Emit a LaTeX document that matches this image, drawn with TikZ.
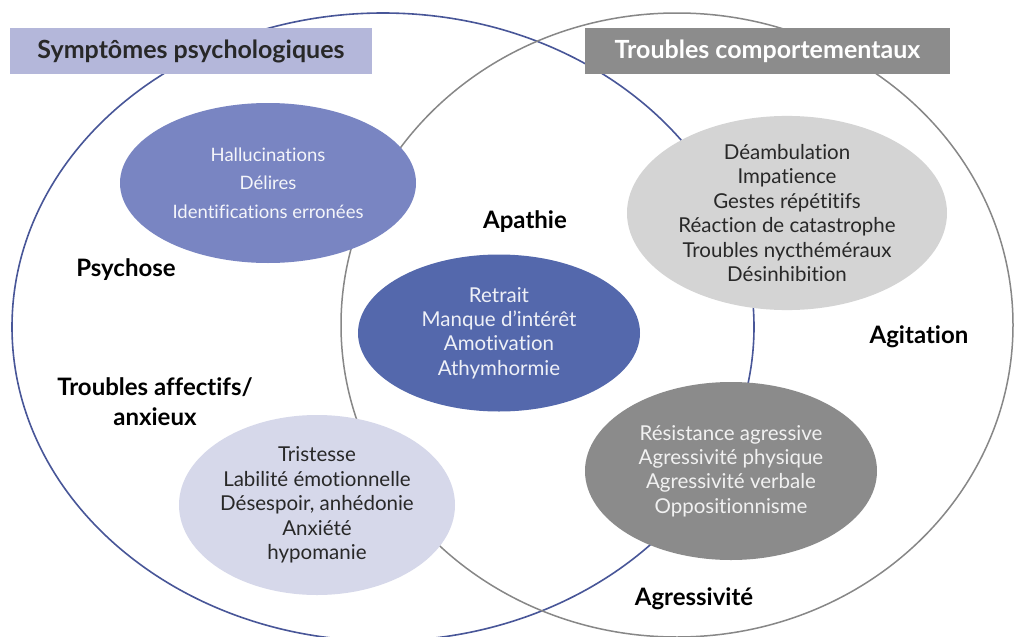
\documentclass[tikz,border=0pt]{standalone}
\usepackage{fontspec}
\setmainfont{Lato}[Ligatures=NoCommon]
\usetikzlibrary{shapes.geometric}

\definecolor{psyline}{RGB}{72,86,152}
\definecolor{compline}{RGB}{135,135,135}
\definecolor{psyhead}{RGB}{180,183,218}
\definecolor{comphead}{RGB}{140,140,140}
\definecolor{psychose}{RGB}{121,133,194}
\definecolor{apathie}{RGB}{84,104,172}
\definecolor{agitation}{RGB}{212,212,212}
\definecolor{affect}{RGB}{214,216,234}
\definecolor{agress}{RGB}{139,139,139}
\definecolor{texte}{RGB}{40,40,40}

\begin{document}
\begin{tikzpicture}[x=1pt,y=-1pt,
	bulle/.style={ellipse, inner sep=0pt, align=center, font=\fontsize{20.5}{24.4}\selectfont},
	titre/.style={align=center, text=black, font=\bfseries\fontsize{24}{30}\selectfont},
	entete/.style={inner sep=0pt, minimum height=46pt, font=\bfseries\fontsize{25}{28}\selectfont}]
		\useasboundingbox (0,0) rectangle (1015,637);
		\clip (0,0) rectangle (1015,637);
		\fill[white] (0,0) rectangle (1015,637);
		
		% les deux grands cercles
		\draw[psyline, line width=1.6pt] (383,327) ellipse [x radius=371, y radius=314];
		\draw[compline, line width=1.5pt] (677,325) ellipse [x radius=336, y radius=312];
		
		\node(psy) at (191,51) [entete, fill=psyhead, text=texte, minimum width=362pt] {Symptômes psychologiques};
		\node(comp) at (767.5,51) [entete, fill=comphead, text=white, minimum width=365pt] {Troubles comportementaux};
		
		\node(hallu) at (268,183) [bulle, fill=psychose, text=white!92!psychose, minimum width=296pt, minimum height=160pt, font=\fontsize{18.5}{28.5}\selectfont] {Hallucinations\\Délires\\Identifications erronées};
		\node(deamb) at (787,213) [bulle, fill=agitation, text=texte, minimum width=320pt, minimum height=194pt] {Déambulation\\Impatience\\Gestes répétitifs\\Réaction de catastrophe\\Troubles nycthéméraux\\Désinhibition};
		\node(retrait) at (499,333) [bulle, fill=apathie, text=white!90!apathie, minimum width=282pt, minimum height=157pt] {Retrait\\Manque d’intérêt\\Amotivation\\Athymhormie};
		\node(trist) at (317,505) [bulle, fill=affect, text=texte, minimum width=276pt, minimum height=180pt] {Tristesse\\Labilité émotionnelle\\Désespoir, anhédonie\\Anxiété\\hypomanie};
		\node(resist) at (731,471) [bulle, fill=agress, text=white!88!agress, minimum width=292pt, minimum height=178pt] {Résistance agressive\\Agressivité physique\\Agressivité verbale\\Oppositionnisme};
		
		\node(psychose) at (126,270) [titre] {Psychose};
		\node(apath) at (525,222) [titre] {Apathie};
		\node(affectifs) at (155,402) [titre] {Troubles affectifs/\\anxieux};
		\node(agit) at (919,337) [titre] {Agitation};
		\node(agressiv) at (694,599) [titre] {Agressivité};
	\end{tikzpicture}
\end{document}
